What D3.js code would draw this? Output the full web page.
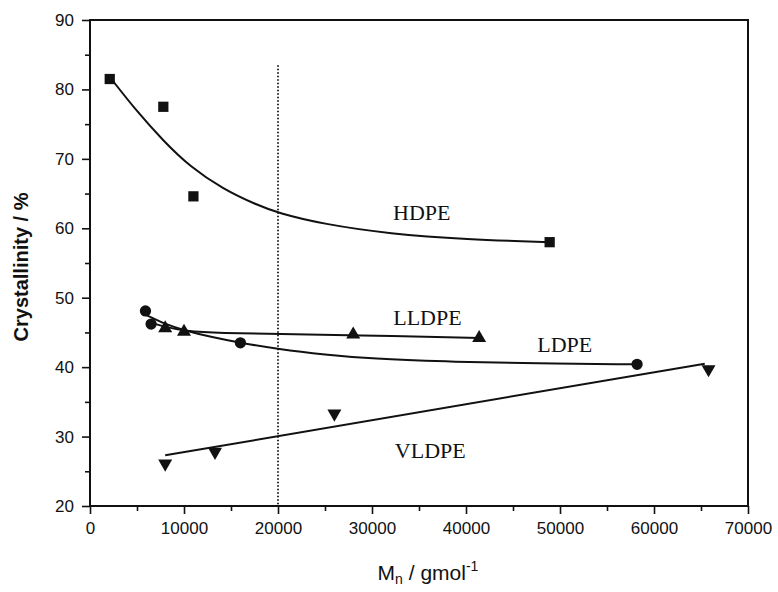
<!DOCTYPE html>
<html>
<head>
<meta charset="utf-8">
<script src="https://cdn.jsdelivr.net/npm/d3@7"></script>
<style>
  body { margin: 0; background: #fff; }
  svg { display: block; }
  .tick text { font-family: "Liberation Sans", Arial, sans-serif; font-size: 17px; fill: #111; }
  .note { font-family: "Liberation Serif", "Times New Roman", serif; font-size: 22px; fill: #111; }
</style>
</head>
<body>
<svg id="chart" width="778" height="592"></svg>
<script>

var hdpeX = [2100, 7800, 11000, 48900];
var hdpeY = [81.5, 77.5, 64.6, 58.0];

var lldpeX = [8000, 10000, 28000, 41400];
var lldpeY = [45.6, 45.1, 44.7, 44.2];

var ldpeX = [5900, 6500, 16000, 58200];
var ldpeY = [48.1, 46.2, 43.5, 40.4];

var vldpeX = [8000, 13300, 26000, 65800];
var vldpeY = [26.1, 27.8, 33.3, 39.7];

// fitted curves as drawn in the figure
var hdpeFitX = [2100, 5000, 7800, 10600, 14200, 17700, 20000, 24800, 31900, 40000, 48900];
var hdpeFitY = [81.8, 76.8, 72.6, 68.9, 65.6, 63.4, 62.2, 60.6, 59.2, 58.4, 58.0];

var lldpeFitX = [6500, 8000, 10000, 14000, 20000, 28000, 41400];
var lldpeFitY = [46.4, 45.8, 45.2, 44.9, 44.8, 44.6, 44.2];

var ldpeFitX = [6000, 8000, 10000, 13000, 16000, 20000, 25000, 30000, 38000, 45000, 58200];
var ldpeFitY = [47.5, 46.2, 45.3, 44.3, 43.5, 42.6, 41.8, 41.2, 40.8, 40.6, 40.4];

var vldpeFitX = [8000, 65400];
var vldpeFitY = [27.3, 40.5];

var xTicks = [0, 10000, 20000, 30000, 40000, 50000, 60000, 70000];
var yTicks = [20, 30, 40, 50, 60, 70, 80, 90];
var dividerX = 20000;

var labels = ["HDPE", "LLDPE", "LDPE", "VLDPE"];
var labelX = [35300, 35900, 50500, 36200];
var labelY = [61.2, 46.1, 42.2, 26.9];

var margin = {top: 20, right: 30, bottom: 86, left: 90};
var width = 778 - margin.left - margin.right;
var height = 592 - margin.top - margin.bottom;

var svg = d3.select("svg#chart");
var g = svg.append("g").attr("transform", `translate(${margin.left},${margin.top})`);

var x = d3.scaleLinear().domain([0, 70000]).range([0, width]);
var y = d3.scaleLinear().domain([20, 90]).range([height, 0]);

// minor ticks first, so major ones sit on top
g.append("g")
    .attr("transform", `translate(0,${height})`)
    .call(d3.axisBottom(x).tickValues(d3.range(5000, 70000, 10000)).tickSize(5).tickFormat(""))
    .call(a => a.select(".domain").remove());
g.append("g")
    .call(d3.axisLeft(y).tickValues(d3.range(25, 90, 10)).tickSize(5).tickFormat(""))
    .call(a => a.select(".domain").remove());

var xAxis = g.append("g")
    .attr("transform", `translate(0,${height})`)
    .call(d3.axisBottom(x).tickValues(xTicks).tickSize(8).tickPadding(8).tickFormat(d3.format("d")));

var yAxis = g.append("g")
    .call(d3.axisLeft(y).tickValues(yTicks).tickSize(8).tickPadding(8));

g.selectAll(".tick line").attr("stroke", "#111").attr("stroke-width", 1.6);
g.selectAll(".domain").remove();

// frame
g.append("rect")
    .attr("x", 0).attr("y", 0)
    .attr("width", width).attr("height", height)
    .attr("fill", "none")
    .attr("stroke", "#111")
    .attr("stroke-width", 2);

// dotted divider
g.append("line")
    .attr("x1", x(dividerX)).attr("x2", x(dividerX))
    .attr("y1", y(83.5)).attr("y2", height)
    .attr("stroke", "#111")
    .attr("stroke-width", 1.8)
    .attr("stroke-dasharray", "1.5,2");

function zip(xs, ys){
    return xs.map(function(d, i){ return [d, ys[i]] });
}

var line = d3.line()
    .x(function(d){ return x(d[0]) })
    .y(function(d){ return y(d[1]) })
    .curve(d3.curveBasis);

var fits = [zip(hdpeFitX, hdpeFitY), zip(lldpeFitX, lldpeFitY), zip(ldpeFitX, ldpeFitY), zip(vldpeFitX, vldpeFitY)];

g.selectAll("path.fit")
    .data(fits)
    .enter()
    .append("path")
    .attr("class", "fit")
    .attr("d", line)
    .attr("fill", "none")
    .attr("stroke", "#111")
    .attr("stroke-width", 2);

// markers
var series = [
    {pts: zip(hdpeX, hdpeY), sym: d3.symbolSquare, size: 105, rot: 0},
    {pts: zip(lldpeX, lldpeY), sym: d3.symbolTriangle, size: 85, rot: 0},
    {pts: zip(ldpeX, ldpeY), sym: d3.symbolCircle, size: 100, rot: 0},
    {pts: zip(vldpeX, vldpeY), sym: d3.symbolTriangle, size: 85, rot: 180}
];

series.forEach(function(s){
    g.selectAll(null)
        .data(s.pts)
        .enter()
        .append("path")
        .attr("d", d3.symbol().type(s.sym).size(s.size))
        .attr("transform", function(d){
            return `translate(${x(d[0])},${y(d[1])}) rotate(${s.rot})`
        })
        .attr("fill", "#111");
});

// curve names
g.selectAll("text.note")
    .data(labels)
    .enter()
    .append("text")
    .attr("class", "note")
    .attr("x", function(d, i){ return x(labelX[i]) })
    .attr("y", function(d, i){ return y(labelY[i]) })
    .attr("text-anchor", "middle")
    .text(function(d){ return d });

// axis titles
svg.append("text")
    .attr("transform", `translate(28,${margin.top + height / 2 + 4}) rotate(-90)`)
    .attr("text-anchor", "middle")
    .style("font-family", "'Liberation Sans', Arial, sans-serif")
    .style("font-weight", "bold")
    .style("font-size", "20px")
    .style("fill", "#111")
    .text("Crystallinity / %");

var xt = svg.append("text")
    .attr("x", 428)
    .attr("y", 580)
    .attr("text-anchor", "middle")
    .style("font-family", "'Liberation Sans', Arial, sans-serif")
    .style("font-size", "21px")
    .style("fill", "#111");
xt.append("tspan").text("M");
xt.append("tspan").attr("dy", 4).style("font-size", "14px").text("n");
xt.append("tspan").attr("dy", -4).text(" / gmol");
xt.append("tspan").attr("dy", -9).style("font-size", "14px").text("-1");

</script>
</body>
</html>
